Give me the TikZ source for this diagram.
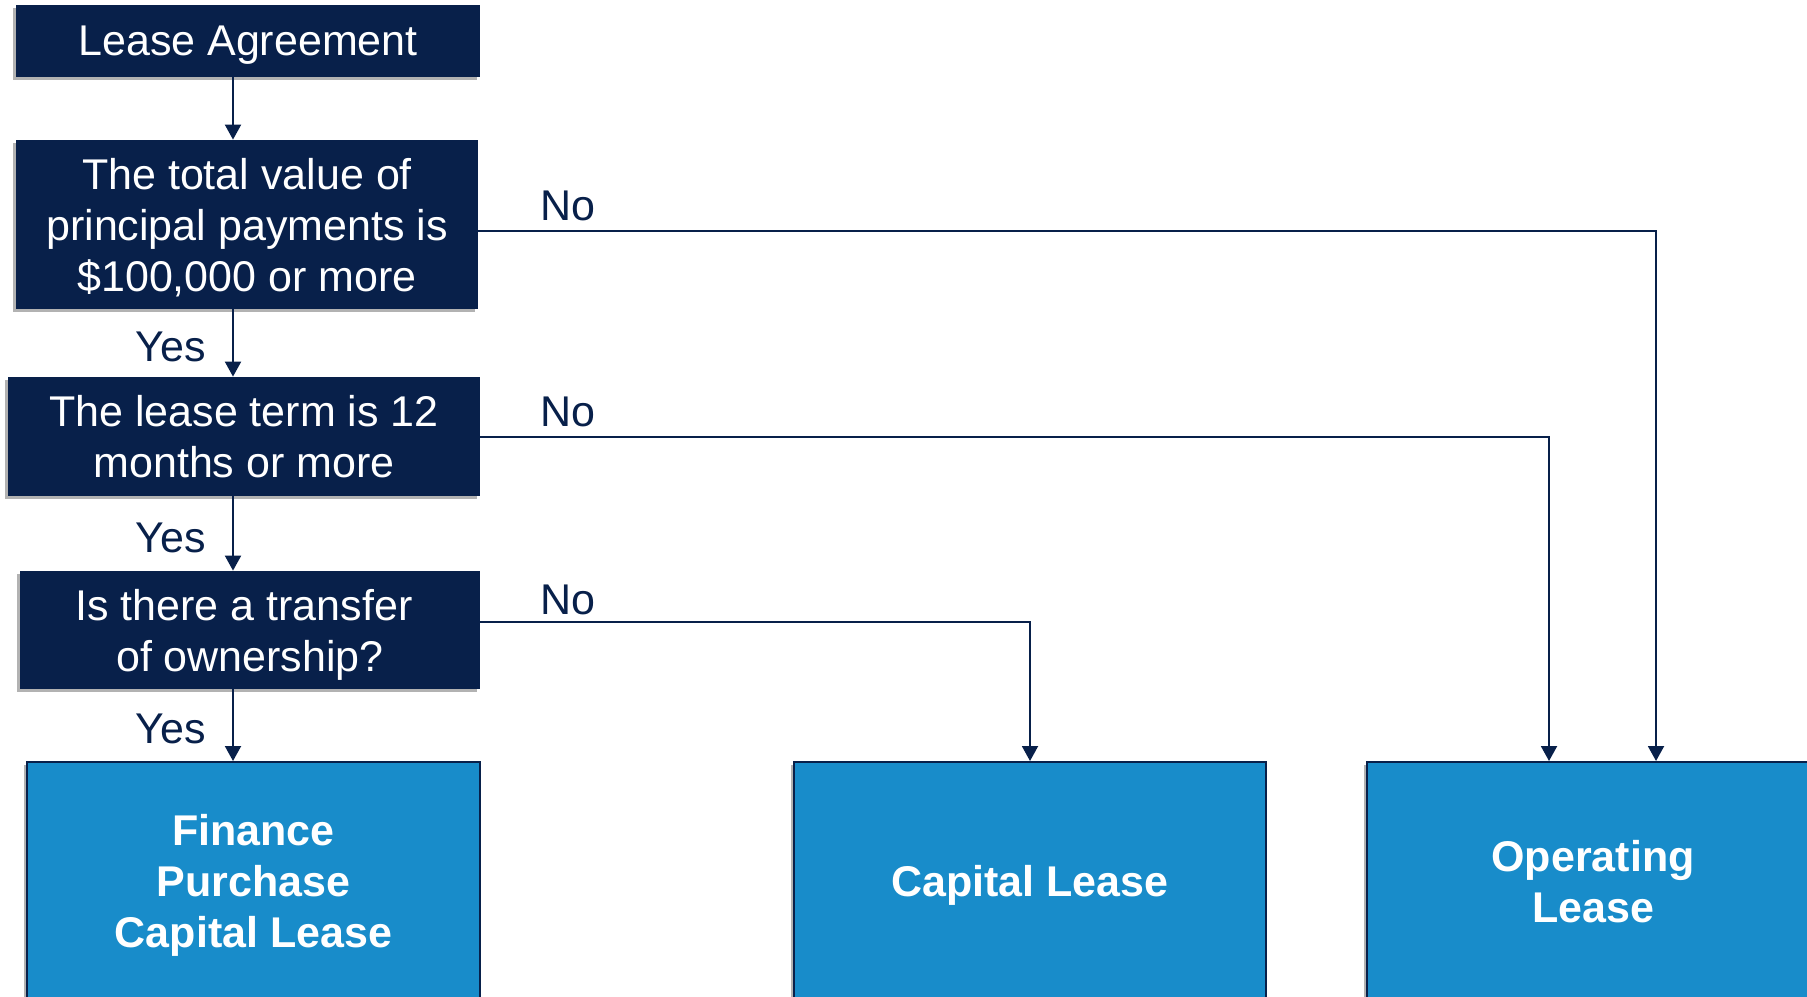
\documentclass[tikz,border=0pt]{standalone}
\usepackage{fontspec}
\setmainfont{Liberation Sans}
\usetikzlibrary{arrows.meta,shadows}

\definecolor{azuloscuro}{HTML}{08204A}
\definecolor{azulclaro}{HTML}{188CCA}

\tikzset{
  sombra/.style={drop shadow={shadow xshift=-1.5pt,shadow yshift=-1.5pt,opacity=.3,fill=black}},
  pregunta/.style={fill=azuloscuro,text=white,align=center,inner sep=0pt,text depth=0pt,
    font=\fontsize{21.5}{25.5}\selectfont,sombra},
  resultado/.style={fill=azulclaro,draw=azuloscuro,line width=1pt,text=white,align=center,
    inner sep=0pt,text depth=0pt,font=\bfseries\fontsize{21.5}{25.5}\selectfont,sombra},
  flecha/.style={draw=azuloscuro,line width=1pt,-{Triangle[width=8pt,length=7.5pt]}},
  etiqueta/.style={text=azuloscuro,inner sep=0pt,font=\fontsize{21.5}{25.5}\selectfont}
}

\begin{document}
\begin{tikzpicture}[x=0.5pt,y=-0.5pt]
        % Paso 1: Fija el marco del dibujo
        \path[use as bounding box] (0,0) rectangle (1807,996);
        \clip (0,0) rectangle (1807,996);
        \coordinate (eje) at (233,0);

        % Paso 2: Dibuja las preguntas
        \node[pregunta,minimum width=232pt,minimum height=36pt] (lease) at (248,41) {Lease Agreement};
        \node[pregunta,minimum width=231pt,minimum height=84.5pt] (q1) at (247,224.5)
          {The total value of\\principal payments is\\\$100,000 or more};
        \node[pregunta,minimum width=236pt,minimum height=59.5pt] (q2) at (244,436.5)
          {The lease term is 12\\months or more};
        \node[pregunta,minimum width=230pt,minimum height=59pt] (q3) at (250,630)
          {Is there a transfer\hspace*{6pt}\\\ of ownership?\hspace*{6pt}};

        % Paso 3: Dibuja los resultados
        \node[resultado,minimum width=226.5pt,minimum height=119pt] (fin) at (253.5,881)
          {Finance\\Purchase\\Capital Lease};
        \node[resultado,minimum width=236pt,minimum height=119pt] (cap) at (1030,881) {Capital Lease};
        \node[resultado,minimum width=226pt,minimum height=119pt] (oper) at (1593,881)
          {Operating\\Lease};

        % Paso 4: Flechas del camino Yes
        \draw[flecha] (lease.south -| eje) -- (q1.north -| eje);
        \draw[flecha] (q1.south -| eje) -- (q2.north -| eje);
        \draw[flecha] (q2.south -| eje) -- (q3.north -| eje);
        \draw[flecha] (q3.south -| eje) -- (fin.north -| eje);

        % Paso 5: Flechas del camino No
        \draw[flecha] ([yshift=-3.25pt]q1.east) -| ([xshift=31.5pt]oper.north);
        \draw[flecha] (q2.east) -| ([xshift=-22pt]oper.north);
        \draw[flecha] ([yshift=4pt]q3.east) -| (cap.north);

        % Paso 6: Agrega las etiquetas
        \node[etiqueta] (si1) at (171,347) {Yes};
        \node[etiqueta] (si2) at (171,538) {Yes};
        \node[etiqueta] (si3) at (171,729) {Yes};
        \node[etiqueta] (no1) at (568,206) {No};
        \node[etiqueta] (no2) at (568,412) {No};
        \node[etiqueta] (no3) at (568,600) {No};
    \end{tikzpicture}
\end{document}
